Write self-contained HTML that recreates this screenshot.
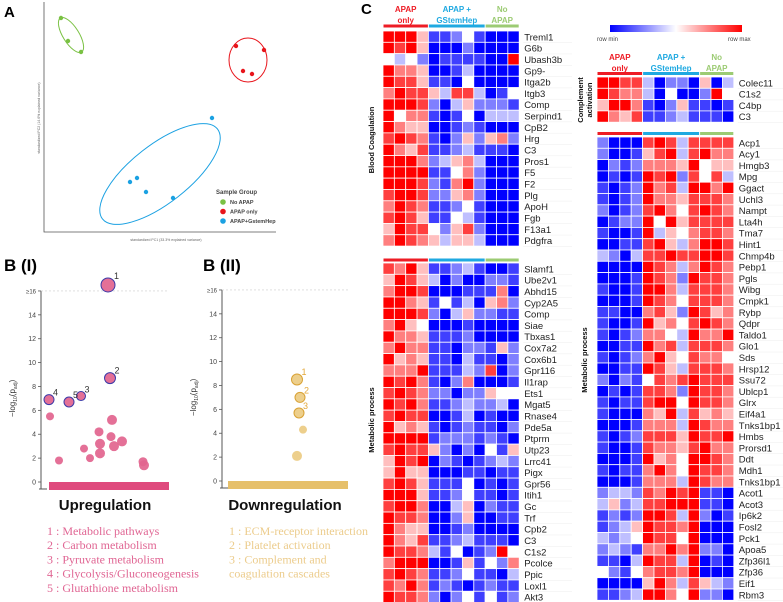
<!DOCTYPE html>
<html><head><meta charset="utf-8"><style>
html,body{margin:0;padding:0;background:#fff;}
svg{display:block;font-family:"Liberation Sans",sans-serif;}
</style></head><body>
<svg id="fig" width="783" height="602" viewBox="0 0 783 602">
<text x="4" y="17" font-size="15" font-weight="bold">A</text>
<text x="361" y="14" font-size="15" font-weight="bold">C</text>
<text x="4" y="271" font-size="17" font-weight="bold">B (I)</text>
<text x="203" y="271" font-size="17" font-weight="bold">B (II)</text>
<g id="pca"></g>
<g id="b1"></g>
<g id="b2"></g>
<g id="hm"></g>
</svg>
<script>
// ---------- PCA data ----------
const pcaGroups = ["No APAP","APAP only","APAP+GstemHep"];
const pcaColors = ["#7ac143","#e8141b","#1ba1e2"];
const pcaPC1 = [[61,68,81],[236,264,243,252],[212,130,137,146,173]];
const pcaPC2 = [[18,41,52],[46,50,71,74],[118,182,178,192,198]];
// ---------- Bubble data ----------
const upValues = [16.5,8.7,7.2,6.9,6.7,5.5,1.8,4.2,5.2,2.8,2.0,3.2,2.4,3.8,3.0,3.4,1.7,1.4];
const upPos = [108,110,81,49,69,50,59,99,112,84,90,100,100,111,114,122,143,144];
const upSize = [7,5.5,4.5,5,5,4,4,4.5,5,4,4,5,5,4.5,5,5,4.5,5];
const upLabels = ["1","2","3","4","5","","","","","","","","","","","","",""];
const downValues = [8.5,7.0,5.7,4.3,2.1];
const downPos = [297,300,299,303,297];
const downSize = [5.5,5,5,4,5];
const downLabels = ["1","2","3","",""];
const yTicks = [0,2,4,6,8,10,12,14,16];
const upTerms = ["1 : Metabolic pathways","2 : Carbon metabolism","3 : Pyruvate metabolism","4 : Glycolysis/Gluconeogenesis","5 : Glutathione metabolism"];
const downTerms = ["1 : ECM-receptor interaction","2 : Platelet activation","3 : Complement and","coagulation cascades"];
// ---------- Heatmap data (0=row min blue, 4=white, 8=row max red) ----------
const bloodGenes = ["Treml1","G6b","Ubash3b","Gp9-","Itga2b","Itgb3","Comp","Serpind1","CpB2","Hrg","C3","Pros1","F5","F2","Plg","ApoH","Fgb","F13a1","Pdgfra"];
const bloodVals = ["888511241000","878500020000","434201111008","866500130000","877511040000","687753773014","888720352221","846610140333","865500121000","787610252562","865711231110","888623563000","888811462000","888721682000","788722562000","687611241000","787511431000","587742572000","687653553000"];
const metaLGenes = ["Slamf1","Ube2v1","Abhd15","Cyp2A5","Comp","Siae","Tbxas1","Cox7a2","Cox6b1","Gpr116","Il1rap","Ets1","Mgat5","Rnase4","Pde5a","Ptprm","Utp23","Lrrc41","Pigx","Gpr56","Itih1","Gc","Trf","Cpb2","C3","C1s2","Pcolce","Ppic","Loxl1","Akt3"];
const metaLVals = ["768511231001","587530200221","688700011160","886514130562","888720352211","685400010000","866511120000","686611022152","856511031102","666811132702","878610260001","787622022544","878611232230","787700130100","856510121102","888812221210","787752020415","587802101232","585500011011","787511140101","888511241101","788600350211","877600250011","865500120000","865711231110","877631401284","688800151426","787611241103","768612101211","877620241412"];
const compGenes = ["Colec11","C1s2","C4bp","C3"];
const compVals = ["887730220503","876630400284","588610251101","865711231110"];
const metaRGenes = ["Acp1","Acy1","Hmgb3","Mpg","Ggact","Uchl3","Nampt","Lta4h","Tma7","Hint1","Chmp4b","Pebp1","Pgls","Wibg","Cmpk1","Rybp","Qdpr","Taldo1","Glo1","Sds","Hrsp12","Ssu72","Ublcp1","Glrx","Eif4a1","Tnks1bp1","Hmbs","Prorsd1","Ddt","Mdh1","Tnks1bp1","Acot1","Acot3","Ip6k2","Fosl2","Pck1","Apoa5","Zfp36l1","Zfp36","Eif1","Rbm3"];
const metaRVals = ["200078737777","200157837866","021266658455","010187827473","101286738868","101286657776","201278647876","012284857777","100183546776","001178536887","320377877887","000087636876","000187628776","100188637776","000187647776","110067528756","100185647876","101266438668","001186737776","101268547664","001187537776","202147678777","010177628776","101178848776","100065837565","000166638766","101277758778","100176657866","000185648876","101168648776","000166638766","233276878110","352377888110","121288738201","123587768000","323487748000","232166868220","110387738010","421467768000","000058637532","112388648220"];
const hmGroupNames = [["APAP","only"],["APAP +","GStemHep"],["No","APAP"]];
const hmGroupColors = ["#ee1c25","#1fa9e1","#9ccb73"];
const hmGroupSizes = [4,5,3];

const NS="http://www.w3.org/2000/svg";
function mk(parent,tag,attrs,text){const e=document.createElementNS(NS,tag);for(const k in attrs)e.setAttribute(k,attrs[k]);if(text!==undefined)e.textContent=text;parent.appendChild(e);return e;}

// ---------- PCA ----------
(function(){
const g=document.getElementById('pca');
const ax=mk(g,'path',{d:'M44 2 V232 H276',stroke:'#555','stroke-width':0.8,fill:'none'});

const xt=mk(g,'text',{x:166,y:241,'font-size':3.5,fill:'#666','text-anchor':'middle'},'standardized PC1 (33.3% explained variance)');

const yt=mk(g,'text',{x:0,y:0,'font-size':3.5,fill:'#666','text-anchor':'middle',transform:'translate(40,118) rotate(-90)'},'standardized PC2 (14.6% explained variance)');

const ells=[[71,35,8,20,-32],[248,60,19,22,0],[160,174,73,29,-38]];
ells.forEach((e,i)=>{const el=mk(g,'ellipse',{cx:e[0],cy:e[1],rx:e[2],ry:e[3],transform:`rotate(${e[4]} ${e[0]} ${e[1]})`,fill:'none',stroke:pcaColors[i],'stroke-width':1});
});
pcaGroups.forEach((gname,i)=>{pcaPC1[i].forEach((x,j)=>{const c=mk(g,'circle',{cx:x,cy:pcaPC2[i][j],r:2.2,fill:pcaColors[i]});
});});
const lt=mk(g,'text',{x:216,y:194,'font-size':6,'font-weight':'bold',fill:'#444'},'Sample Group');

pcaGroups.forEach((gname,i)=>{const y=202+i*9.5;
const c=mk(g,'circle',{cx:223,cy:y,r:2.8,fill:pcaColors[i]});
const t=mk(g,'text',{x:230,y:y+2,'font-size':5.5,'font-weight':'bold',fill:'#444'},gname);});
})();

// ---------- Bubble charts ----------
function bubble(id,axX,yZero,unit,barX,barW,barCol,fill,stroke,labCol,vals,pos,size,labs,title,titleX,terms,termCol,termX,yTitleX){
const g=document.getElementById(id);
const Y=v=>yZero-v*unit;
const a=mk(g,'line',{x1:axX,y1:Y(16),x2:axX,y2:yZero+7,stroke:'#555','stroke-width':1});
mk(g,'line',{x1:axX-2,y1:yZero+7,x2:axX+6,y2:yZero+7,stroke:'#555','stroke-width':1});
const d=mk(g,'line',{x1:axX,y1:Y(16),x2:axX+127,y2:Y(16),stroke:'#ccc','stroke-width':0.7,'stroke-dasharray':'2,2'});
yTicks.forEach(t=>{mk(g,'line',{x1:axX-3,y1:Y(t),x2:axX,y2:Y(t),stroke:'#555','stroke-width':0.8});
const tl=mk(g,'text',{x:axX-5,y:Y(t)+2.5,'font-size':t===16?6:7,fill:'#444','text-anchor':'end'},t===16?'≥16':String(t));});
const yt=mk(g,'text',{x:0,y:0,'font-size':8,fill:'#333','text-anchor':'middle',transform:`translate(${yTitleX},${Y(7)}) rotate(-90)`},'−log');
mk(yt,'tspan',{'font-size':5,dy:2},'10');mk(yt,'tspan',{dy:-2},'(p');mk(yt,'tspan',{'font-size':5,dy:2},'adj');mk(yt,'tspan',{dy:-2},')');
const b=mk(g,'rect',{x:barX,y:yZero,width:barW,height:8,fill:barCol});
vals.forEach((v,i)=>{const hl=labs[i]!=='';const c=mk(g,'circle',{cx:pos[i],cy:Y(v),r:size[i],fill:fill,stroke:hl?stroke:'none','stroke-width':hl?1:0,'fill-opacity':0.92});

if(hl){const l=mk(g,'text',{x:pos[i]+size[i]-1,y:Y(v)-size[i]+1,'font-size':9,fill:labCol},labs[i]);}});
const tt=mk(g,'text',{x:titleX,y:510,'font-size':15,'font-weight':'bold','text-anchor':'middle',fill:'#111'},title);
terms.forEach((t,i)=>{const e=mk(g,'text',{x:termX,y:535+i*14.2,'font-size':12,fill:termCol,'font-family':'Liberation Serif, serif'},t);});
}
bubble('b1',41,482,11.94,49,120,'#df4a7d','#e2648e','#3b3aa8','#333',upValues,upPos,upSize,upLabels,'Upregulation',105,upTerms,'#e06593',47,15);
bubble('b2',222,481,11.94,228,120,'#e6c06b','#ebcb82','#d9a235','#e3a83a',downValues,downPos,downSize,downLabels,'Downregulation',285,downTerms,'#eccc8c',229,196);

// ---------- Heatmaps ----------
function colorOf(v){const t=(v-4)/4;let r,g,b;if(t<0){const s=-t;r=255*(1-s);g=255*(1-s);b=255;}else{r=255;g=255*(1-t);b=255*(1-t);}return `rgb(${r|0},${g|0},${b|0})`;}
const hm=document.getElementById('hm');
function header(x0,cw,yTop){let x=x0;hmGroupSizes.forEach((n,i)=>{const w=n*cw;
const t1=mk(hm,'text',{x:x+w/2,y:yTop,'font-size':8,'font-weight':'bold',fill:hmGroupColors[i],'text-anchor':'middle'},hmGroupNames[i][0]);
const t2=mk(hm,'text',{x:x+w/2,y:yTop+11,'font-size':8,'font-weight':'bold',fill:hmGroupColors[i],'text-anchor':'middle'},hmGroupNames[i][1]);x+=w;});}
function bars(x0,cw,y){let x=x0;hmGroupSizes.forEach((n,i)=>{const r=mk(hm,'rect',{x:x+0.5,y:y,width:n*cw-1,height:3,fill:hmGroupColors[i]});x+=n*cw;});}
function block(x0,y0,cw,ch,genes,vals,lineEnd){
genes.forEach((gname,r)=>{const y=y0+r*ch;
for(let c=0;c<12;c++){const v=+vals[r][c];const cell=mk(hm,'rect',{x:x0+c*cw,y:y,width:cw,height:ch,fill:colorOf(v),stroke:'#fff','stroke-width':0.8});
}
const t=mk(hm,'text',{x:x0+12*cw+5,y:y+ch-2,'font-size':9.5,fill:'#222'},gname);
mk(hm,'line',{x1:x0+12*cw+4,y1:y+ch+0.3,x2:lineEnd,y2:y+ch+0.3,stroke:'#eee','stroke-width':0.5});});}
function vlabel(x,y,lines){lines.forEach((s,i)=>{const t=mk(hm,'text',{x:0,y:0,'font-size':7.5,'font-weight':'bold',fill:'#111','text-anchor':'middle',transform:`translate(${x+i*9},${y}) rotate(-90)`},s);});}
// left
const LX=383,LW=11.35,LH=11.32;
header(LX,LW,12);bars(LX,LW,24.5);
block(LX,31,LW,LH,bloodGenes,bloodVals,572);
bars(LX,LW,258.5);
block(LX,263,LW,LH,metaLGenes,metaLVals,572);
vlabel(374,140,['Blood Coagulation']);vlabel(374,420,['Metabolic process']);
// right
const RX=597,RW=11.4,RH=11.3;
const defs=mk(hm,'defs',{});const lg=mk(defs,'linearGradient',{id:'cb'});
mk(lg,'stop',{offset:'0',  'stop-color':'#0000ff'});mk(lg,'stop',{offset:'0.5','stop-color':'#ffffff'});mk(lg,'stop',{offset:'1','stop-color':'#ff0000'});
const cb=mk(hm,'rect',{x:610,y:25,width:132,height:7,fill:'url(#cb)'});
const mn=mk(hm,'text',{x:597,y:41,'font-size':6,fill:'#444'},'row min');
const mx=mk(hm,'text',{x:728,y:41,'font-size':6,fill:'#444'},'row max');
header(RX,RW,60);bars(RX,RW,72);
block(RX,77,RW,RH,compGenes,compVals,783);
bars(RX,RW,132);
block(RX,137,RW,RH,metaRGenes,metaRVals,783);
vlabel(583,100,['Complement','activation']);vlabel(587,360,['Metabolic process']);
</script>
</body></html>
